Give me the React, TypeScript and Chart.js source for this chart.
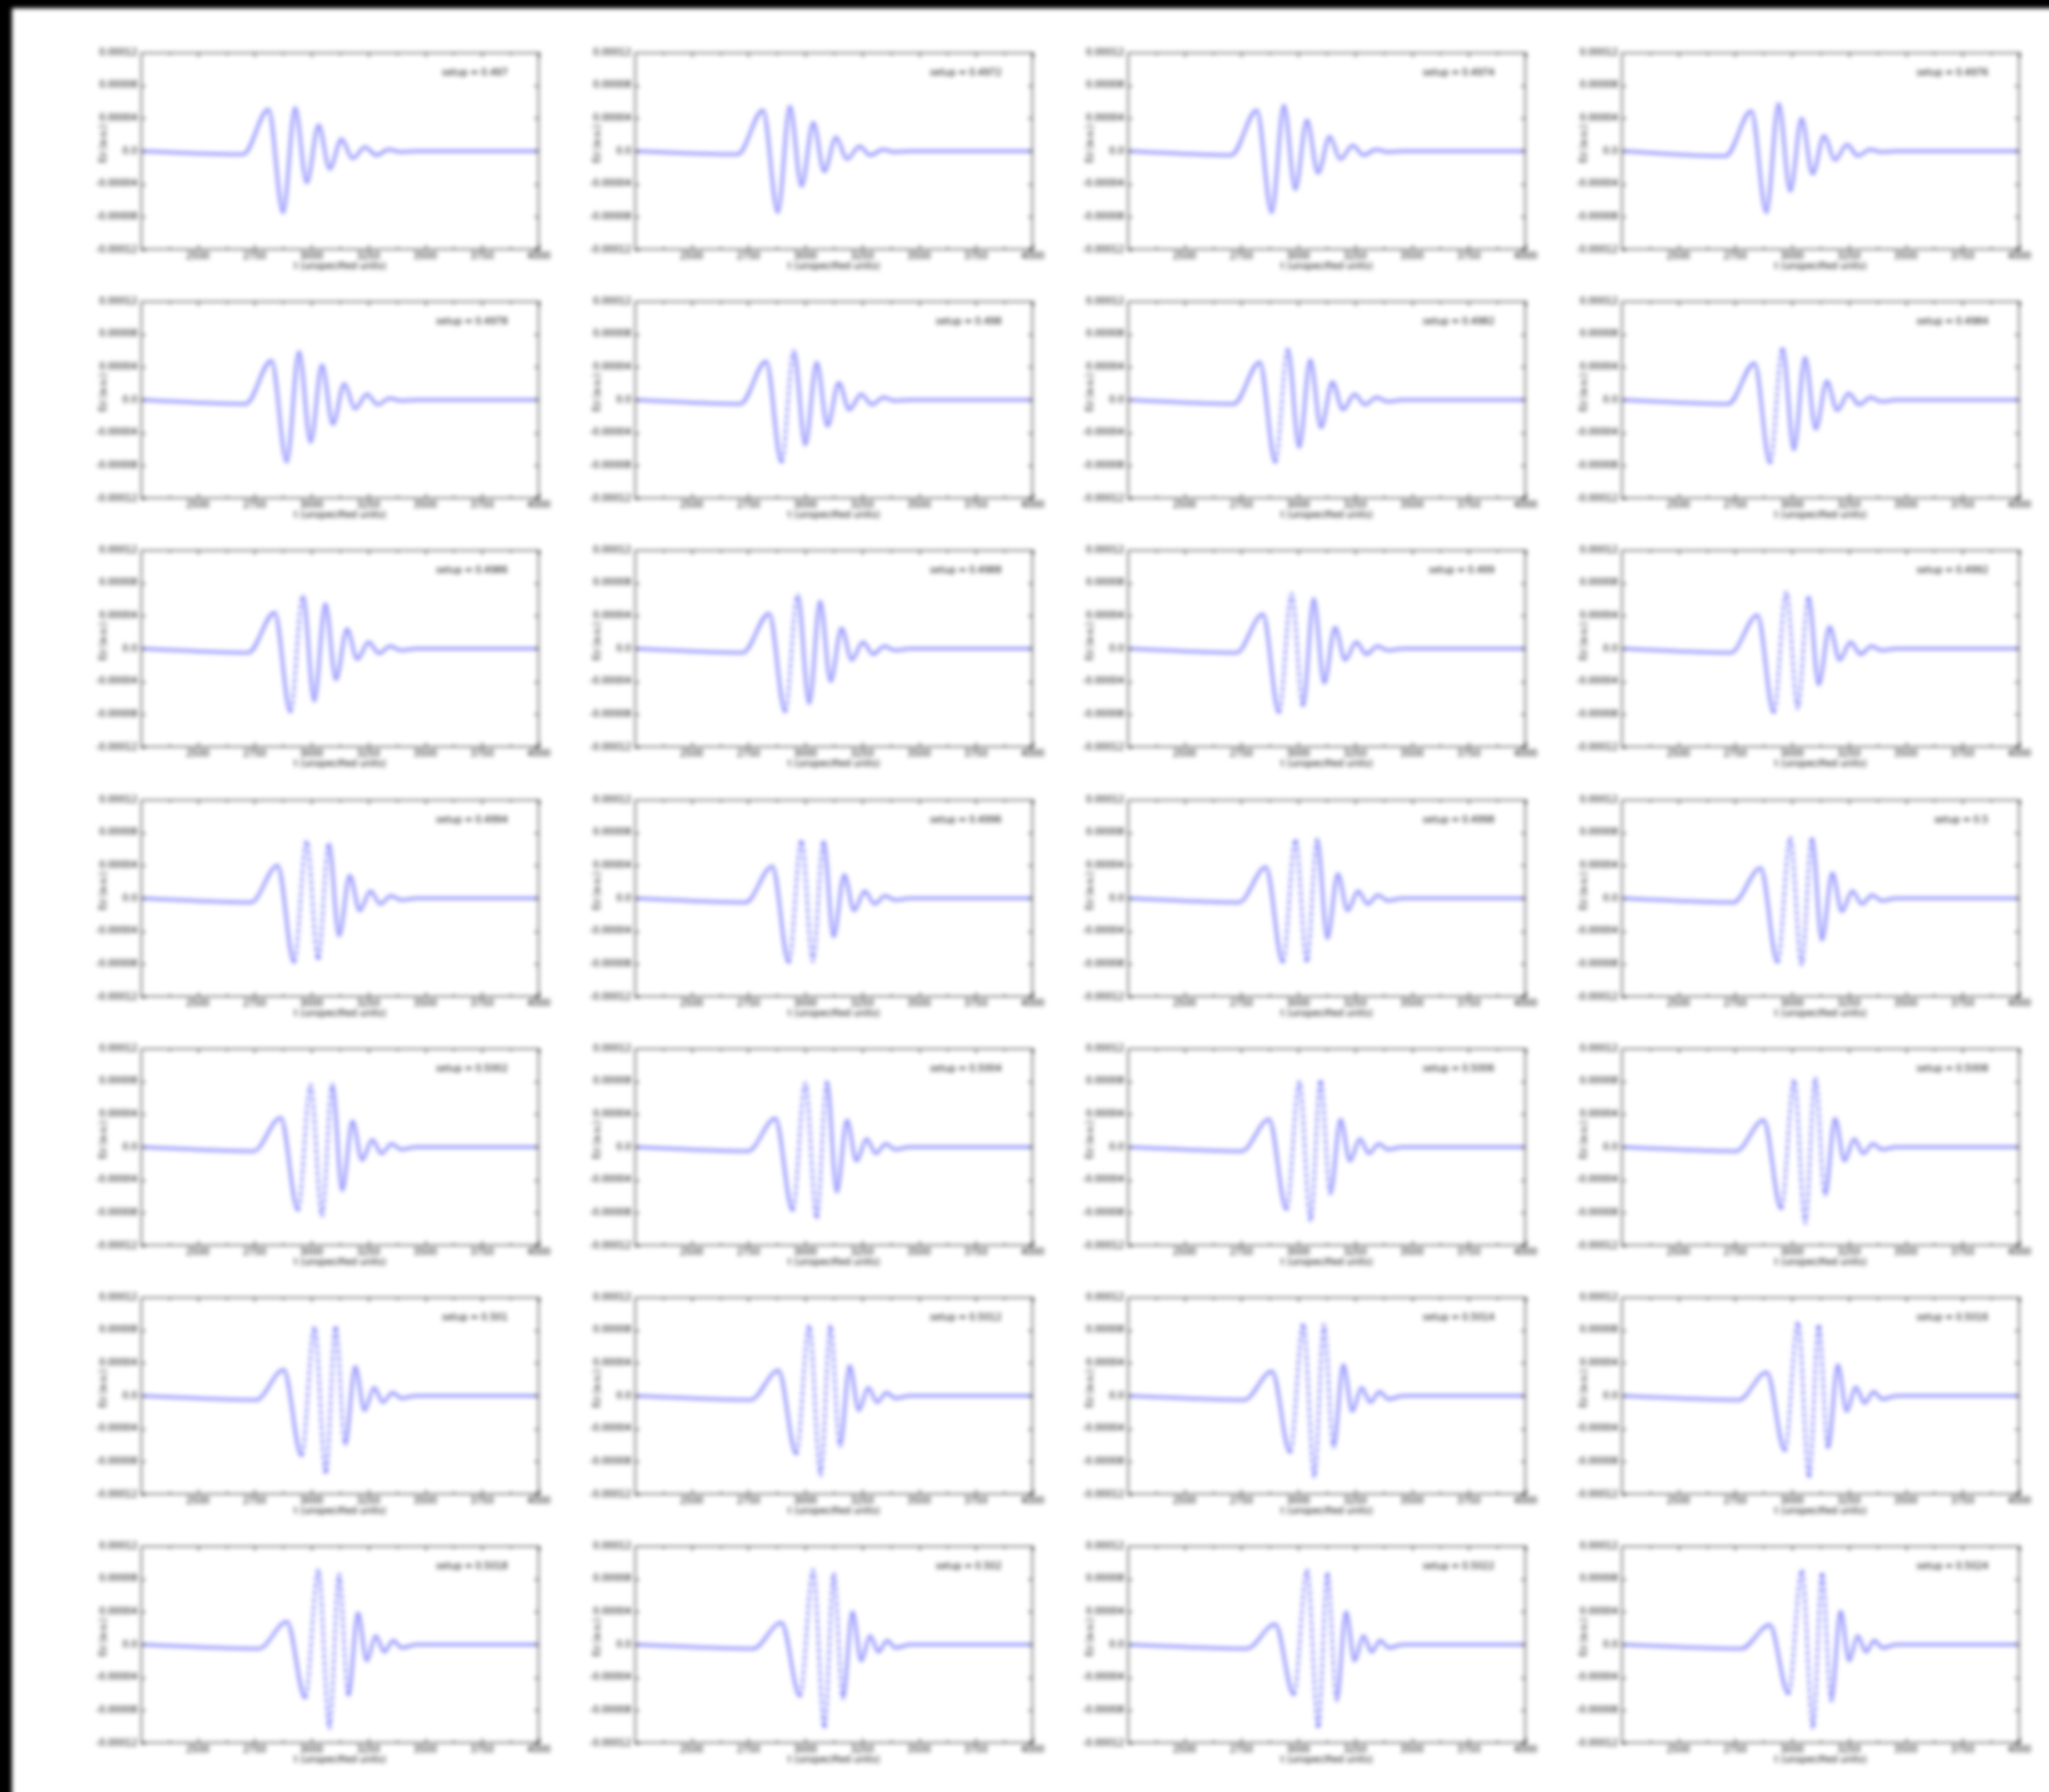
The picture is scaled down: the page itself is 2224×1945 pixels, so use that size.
import React, { useEffect, useRef } from 'react';
import { Chart, registerables } from 'chart.js';

Chart.register(...registerables);
Chart.defaults.font.family = '"DejaVu Sans", sans-serif';

// ---------- data ----------
const panelLabels = [
  '0.497', '0.4972', '0.4974', '0.4976', '0.4978', '0.498', '0.4982',
  '0.4984', '0.4986', '0.4988', '0.499', '0.4992', '0.4994', '0.4996',
  '0.4998', '0.5', '0.5002', '0.5004', '0.5006', '0.5008', '0.501',
  '0.5012', '0.5014', '0.5016', '0.5018', '0.502', '0.5022', '0.5024',
];
const labelPrefix = 'setup = ';

const xMin = 2250;
const xMax = 4000;
const xTickValues = [2250, 2500, 2750, 3000, 3250, 3500, 3750, 4000];
const xMinorTickValues = [2375, 2625, 2875, 3125, 3375, 3625, 3875];
const yTickValues = [-12, -8, -4, 0, 4, 8, 12]; // in units of 1e-5
const yTickLabels = ['-0.00012', '-0.00008', '-0.00004', '0.0', '0.00004', '0.00008', '0.00012'];
const xTitle = 't (unspecified units)';
const yTitle = 'Ez (a.u.)';

// flat baseline before and after the wave packet
const leadX = [2250];
const tailX = [3460, 4000];

// extrema of each panel's wave packet (x, and y in 1e-5)
const dipX = [2700,2703,2706,2708,2711,2714,2717,2720,2722,2725,2728,2731,2734,2737,2739,2742,2745,2748,2751,2754,2756,2759,2762,2765,2768,2770,2773,2776];
const dipY = [-0.4,-0.4,-0.5,-0.6,-0.5,-0.5,-0.5,-0.5,-0.5,-0.5,-0.5,-0.5,-0.5,-0.5,-0.5,-0.5,-0.5,-0.5,-0.5,-0.5,-0.5,-0.5,-0.5,-0.5,-0.5,-0.5,-0.5,-0.5];
const p1X = [2811,2814,2818,2821,2824,2828,2831,2835,2838,2841,2845,2848,2851,2855,2858,2862,2865,2868,2872,2875,2878,2882,2885,2889,2892,2895,2899,2902];
const p1Y = [5.1,5.0,5.0,4.9,4.8,4.7,4.6,4.5,4.4,4.3,4.2,4.1,4.0,3.9,3.8,3.7,3.6,3.5,3.4,3.3,3.2,3.1,3.0,2.9,2.8,2.7,2.5,2.4];
const t1X = [2875,2879,2883,2887,2891,2895,2899,2903,2907,2911,2915,2919,2923,2927,2932,2936,2940,2944,2948,2952,2956,2960,2964,2968,2972,2976,2980,2984];
const t1Y = [-7.5,-7.5,-7.5,-7.5,-7.6,-7.6,-7.6,-7.7,-7.7,-7.7,-7.8,-7.8,-7.8,-7.8,-7.8,-7.8,-7.7,-7.7,-7.6,-7.5,-7.3,-7.1,-6.9,-6.7,-6.5,-6.3,-6.1,-6.0];
const p2X = [2928,2932,2937,2941,2945,2949,2954,2958,2962,2966,2971,2975,2979,2983,2988,2992,2996,3000,3005,3009,3013,3017,3022,3026,3030,3034,3039,3043];
const p2Y = [5.3,5.5,5.6,5.8,5.9,6.0,6.2,6.3,6.5,6.6,6.7,6.9,7.0,7.1,7.2,7.4,7.6,7.8,8.0,8.2,8.4,8.6,8.8,9.0,9.1,9.1,9.1,9.1];
const t2X = [2979,2983,2987,2992,2996,3000,3004,3008,3012,3017,3021,3025,3029,3033,3038,3042,3046,3050,3054,3058,3063,3067,3071,3075,3079,3084,3088,3092];
const t2Y = [-3.9,-4.3,-4.7,-4.9,-5.2,-5.5,-5.8,-6.1,-6.4,-6.7,-7.0,-7.3,-7.5,-7.7,-7.8,-8.1,-8.4,-8.7,-9.0,-9.3,-9.5,-9.7,-9.9,-10.0,-10.2,-10.2,-10.2,-10.2];
const p3X = [3031,3035,3038,3042,3046,3050,3053,3057,3061,3065,3068,3072,3076,3080,3083,3087,3091,3095,3098,3102,3106,3110,3113,3117,3121,3125,3128,3132];
const p3Y = [3.2,3.5,3.8,4.0,4.3,4.6,4.9,5.2,5.5,5.8,6.1,6.4,6.7,7.0,7.2,7.4,7.7,8.0,8.2,8.4,8.5,8.6,8.7,8.7,8.6,8.7,8.8,8.8];
const t3X = [3080,3083,3087,3090,3094,3097,3100,3104,3107,3111,3114,3117,3121,3124,3128,3131,3135,3138,3141,3145,3148,3152,3155,3158,3162,3165,3169,3172];
const t3Y = [-2.2,-2.5,-2.7,-2.8,-3.0,-3.2,-3.4,-3.6,-3.8,-4.0,-4.2,-4.4,-4.6,-4.7,-4.9,-5.1,-5.3,-5.5,-5.7,-5.9,-6.0,-6.2,-6.3,-6.4,-6.3,-6.6,-6.8,-6.9];
const p4X = [3132,3135,3138,3141,3144,3147,3150,3153,3156,3159,3162,3165,3168,3171,3174,3177,3180,3183,3186,3189,3192,3195,3198,3201,3204,3207,3210,3213];
const p4Y = [1.5,1.7,1.8,1.9,2.0,2.1,2.2,2.3,2.4,2.5,2.6,2.7,2.8,2.9,3.0,3.1,3.2,3.3,3.4,3.5,3.6,3.7,3.8,3.8,3.9,4.0,4.0,4.1];
const t4X = [3180,3183,3185,3188,3191,3193,3196,3198,3201,3204,3206,3209,3212,3214,3217,3219,3222,3225,3227,3230,3233,3235,3238,3240,3243,3246,3248,3251];
const t4Y = [-0.9,-1.0,-1.0,-1.1,-1.1,-1.2,-1.2,-1.3,-1.3,-1.4,-1.4,-1.4,-1.5,-1.5,-1.5,-1.6,-1.6,-1.7,-1.7,-1.7,-1.8,-1.8,-1.9,-1.9,-2.0,-2.0,-2.0,-2.0];
const p5X = [3236,3238,3240,3242,3244,3246,3248,3249,3251,3253,3255,3257,3259,3261,3263,3265,3267,3269,3271,3273,3275,3276,3278,3280,3282,3284,3286,3288];
const p5Y = [0.5,0.6,0.7,0.8,0.7,0.7,0.7,0.8,0.8,0.8,0.8,0.8,0.9,0.9,0.9,0.9,0.9,1.0,1.0,1.0,1.0,1.0,1.0,1.1,1.1,1.1,1.1,1.1];
const t5X = [3284,3286,3287,3289,3290,3292,3293,3295,3296,3298,3299,3301,3302,3304,3305,3307,3308,3310,3311,3313,3314,3316,3317,3319,3320,3322,3323,3325];
const t5Y = [-0.5,-0.5,-0.5,-0.6,-0.6,-0.6,-0.6,-0.6,-0.6,-0.7,-0.7,-0.7,-0.7,-0.7,-0.7,-0.7,-0.8,-0.8,-0.8,-0.8,-0.8,-0.8,-0.8,-0.9,-0.9,-0.9,-0.9,-0.9];
const p6X = [3340,3341,3342,3342,3343,3344,3345,3345,3346,3347,3348,3349,3349,3350,3351,3352,3352,3353,3354,3355,3356,3356,3357,3358,3359,3359,3360,3361];
const p6Y = [0.2,0.2,0.2,0.2,0.2,0.3,0.3,0.3,0.3,0.3,0.3,0.3,0.3,0.3,0.4,0.4,0.4,0.4,0.4,0.4,0.4,0.4,0.5,0.5,0.5,0.5,0.5,0.5];
const t6X = [3390,3390,3391,3391,3391,3391,3392,3392,3392,3393,3393,3393,3394,3394,3394,3394,3395,3395,3395,3396,3396,3396,3397,3397,3397,3397,3398,3398];
const t6Y = [-0.1,-0.1,-0.1,-0.1,-0.1,-0.1,-0.2,-0.2,-0.2,-0.2,-0.2,-0.2,-0.2,-0.2,-0.3,-0.3,-0.3,-0.3,-0.3,-0.3,-0.3,-0.3,-0.4,-0.4,-0.4,-0.4,-0.4,-0.4];

const extremaX = [dipX, p1X, t1X, p2X, t2X, p3X, t3X, p4X, t4X, p5X, t5X, p6X, t6X];
const extremaY = [dipY, p1Y, t1Y, p2Y, t2Y, p3Y, t3Y, p4Y, t4Y, p5Y, t5Y, p6Y, t6Y];

function panelPoints(i: number) {
  const pts: { x: number; y: number }[] = [];
  leadX.forEach((x) => pts.push({ x, y: 0 }));
  extremaX.forEach((col, k) => pts.push({ x: col[i], y: extremaY[k][i] }));
  tailX.forEach((x) => pts.push({ x, y: 0 }));
  return pts;
}

// ---------- layout ----------
const COLS = 4;
const ROWS = 7;
const CANVAS_W = 565;
const CANVAS_H = 270;
const AXIS_W = 100;
const PLOT_W = 432;
const PLOT_H = 214;
const TOP_PAD = 20;
const COL_PITCH = 535.5;
const ROW_PITCH = 270.2;
const FIRST_PLOT_LEFT = 153;
const FIRST_PLOT_TOP = 57;
const STEEP_SWING = 13.5; // large swings look broken up in the source image

const decorPlugin = {
  id: 'decor',
  afterDatasetsDraw(chart: any, _args: any, opts: any) {
    const { ctx, chartArea: a, scales } = chart;
    const xs = scales.x;
    const ys = scales.y;
    ctx.save();
    ctx.strokeStyle = '#000';
    ctx.lineWidth = 1;
    ctx.strokeRect(a.left + 0.5, a.top + 0.5, a.right - a.left - 1, a.bottom - a.top - 1);
    const seg = (x1: number, y1: number, x2: number, y2: number) => {
      ctx.beginPath();
      ctx.moveTo(x1, y1);
      ctx.lineTo(x2, y2);
      ctx.stroke();
    };
    xTickValues.forEach((v) => {
      const px = Math.round(xs.getPixelForValue(v)) + 0.5;
      seg(px, a.top, px, a.top + 5);
      seg(px, a.bottom, px, a.bottom - 5);
    });
    xMinorTickValues.forEach((v) => {
      const px = Math.round(xs.getPixelForValue(v)) + 0.5;
      seg(px, a.top, px, a.top + 3);
      seg(px, a.bottom, px, a.bottom - 3);
    });
    yTickValues.forEach((v) => {
      const py = Math.round(ys.getPixelForValue(v)) + 0.5;
      seg(a.left, py, a.left + 5, py);
      seg(a.right, py, a.right - 5, py);
    });
    ctx.fillStyle = '#000';
    ctx.font = '10px "DejaVu Sans"';
    ctx.textAlign = 'right';
    ctx.textBaseline = 'middle';
    ctx.fillText(opts.label, a.right - 34, a.top + 22);
    ctx.translate(a.left - 41, (a.top + a.bottom) / 2 - 8);
    ctx.rotate(-Math.PI / 2);
    ctx.textAlign = 'center';
    ctx.fillText(yTitle, 0, 0);
    ctx.restore();
  },
};

function Panel({ index }: { index: number }) {
  const ref = useRef<HTMLCanvasElement | null>(null);
  useEffect(() => {
    if (!ref.current) return;
    const chart = new Chart(ref.current, {
      type: 'line',
      data: {
        datasets: [
          {
            data: panelPoints(index),
            borderColor: 'rgb(70,70,255)',
            borderWidth: 2,
            pointRadius: 0,
            fill: false,
            cubicInterpolationMode: 'monotone',
            segment: {
              borderDash: (c: any) =>
                Math.abs(c.p1.parsed.y - c.p0.parsed.y) > STEEP_SWING ? [5, 3] : undefined,
            },
          },
        ],
      },
      options: {
        animation: false,
        responsive: false,
        devicePixelRatio: 1,
        events: [],
        layout: { padding: { left: 0, top: TOP_PAD, right: CANVAS_W - AXIS_W - PLOT_W, bottom: 0 } },
        plugins: {
          legend: { display: false },
          tooltip: { enabled: false },
          decor: { label: labelPrefix + panelLabels[index] },
        } as any,
        scales: {
          x: {
            type: 'linear',
            min: xMin,
            max: xMax,
            afterBuildTicks: (s: any) => {
              s.ticks = xTickValues.map((v) => ({ value: v }));
            },
            grid: { display: false, drawTicks: false },
            border: { display: false },
            ticks: {
              font: { size: 10 },
              color: '#000',
              padding: 1,
              maxRotation: 0,
              autoSkip: false,
              callback: (v: any) => (v === xMin ? '' : String(v)),
            },
            title: {
              display: true,
              text: xTitle,
              color: '#000',
              font: { size: 10 },
              padding: { top: 0, bottom: 12 },
            },
            afterFit: (s: any) => {
              s.height = CANVAS_H - TOP_PAD - PLOT_H;
            },
          },
          y: {
            type: 'linear',
            min: yTickValues[0],
            max: yTickValues[yTickValues.length - 1],
            afterBuildTicks: (s: any) => {
              s.ticks = yTickValues.map((v) => ({ value: v }));
            },
            grid: { display: false, drawTicks: false },
            border: { display: false },
            ticks: {
              font: { size: 10 },
              color: '#000',
              padding: 4,
              autoSkip: false,
              callback: (v: any) => {
                const k = yTickValues.indexOf(v);
                return k >= 0 ? yTickLabels[k] : '';
              },
            },
            afterFit: (s: any) => {
              s.width = AXIS_W;
            },
          },
        },
      },
      plugins: [decorPlugin],
    } as any);
    return () => chart.destroy();
  }, [index]);
  const col = index % COLS;
  const row = Math.floor(index / COLS);
  const left = Math.round(FIRST_PLOT_LEFT - AXIS_W + col * COL_PITCH);
  const top = Math.round(FIRST_PLOT_TOP - TOP_PAD + row * ROW_PITCH);
  return (
    <canvas
      ref={ref}
      width={CANVAS_W}
      height={CANVAS_H}
      style={{ position: 'absolute', left, top, width: CANVAS_W, height: CANVAS_H }}
    />
  );
}

export default function App() {
  useEffect(() => {
    document.documentElement.style.background = '#fff';
    document.body.style.background = '#fff';
    document.body.style.overflow = 'hidden';
  }, []);
  const indices = panelLabels.map((_, i) => i);
  return (
    <div
      style={{
        position: 'fixed',
        left: 0,
        top: 0,
        width: '100vw',
        height: '100vh',
        background: '#fff',
        overflow: 'hidden',
      }}
    >
      <div
        style={{
          position: 'absolute',
          left: -20,
          top: -20,
          width: 2264,
          height: 1985,
          background: '#fff',
          filter: 'blur(2.4px)',
        }}
      >
        <div style={{ position: 'absolute', left: 0, top: 0, width: 2264, height: 29, background: '#000' }} />
        <div style={{ position: 'absolute', left: 0, top: 0, width: 33, height: 1985, background: '#000' }} />
        <div style={{ position: 'absolute', left: 20, top: 20 }}>
          {indices.slice(0, COLS * ROWS).map((i) => (
            <Panel key={i} index={i} />
          ))}
        </div>
      </div>
    </div>
  );
}
